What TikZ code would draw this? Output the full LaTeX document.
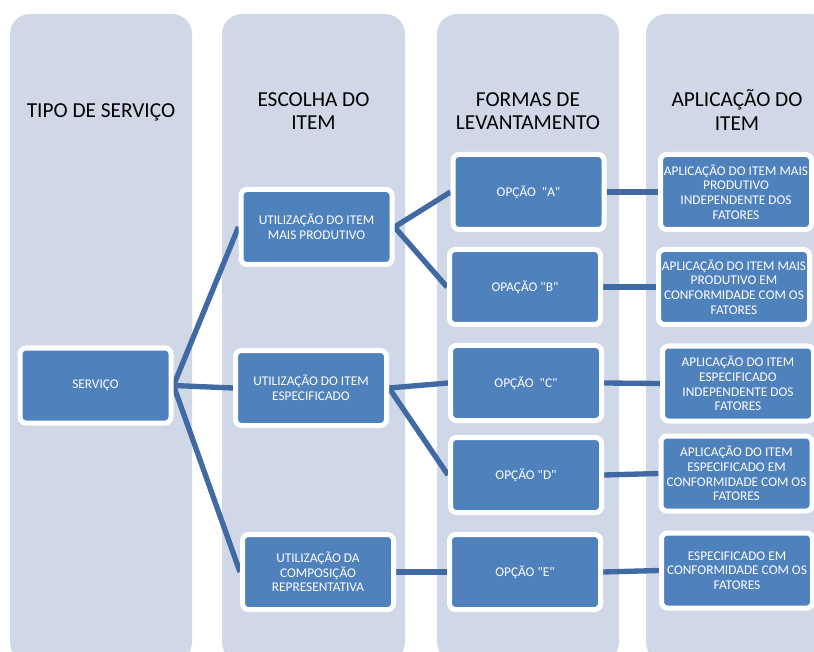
\documentclass[tikz,border=0pt]{standalone}
\usepackage{fontspec}
\setmainfont{Carlito}[Ligatures=TeXOff]
\pgfdeclarelayer{lanes}
\pgfdeclarelayer{links}
\pgfsetlayers{lanes,links,main}
\definecolor{laneblue}{RGB}{208,216,232}
\definecolor{cardblue}{RGB}{79,129,189}
\definecolor{linkblue}{RGB}{65,106,162}
\begin{document}
\begin{tikzpicture}[x=0.75pt,y=-0.75pt,
  lane/.style={fill=laneblue, rounded corners=15pt},
  head/.style={align=center, text=black, inner sep=0pt,
    font=\fontsize{16}{17.6}\selectfont},
  card/.style={draw=white, line width=3.75pt, fill=cardblue,
    rounded corners=4.5pt, minimum width=113.25pt, minimum height=56.25pt,
    inner sep=0pt, align=center, text=white,
    font=\fontsize{10}{11}\selectfont},
  link/.style={draw=linkblue, line width=4pt}]
\useasboundingbox (0,0) rectangle (814,652);
\clip (0,0) rectangle (814,652);

% column lanes
\begin{pgfonlayer}{lanes}
  \fill[lane] (10,14) rectangle (192,662);
  \fill[lane] (222,14) rectangle (405,662);
  \fill[lane] (437,14) rectangle (619,662);
  \fill[lane] (646,14) rectangle (830,662);
\end{pgfonlayer}

% column headings
\node[head] (h1) at (101,112.5) {TIPO DE SERVIÇO};
\node[head] (h2) at (313.5,111) {ESCOLHA DO\\ITEM};
\node[head] (h3) at (528,111) {FORMAS DE\\LEVANTAMENTO};
\node[head] (h4) at (737,110) {APLICAÇÃO DO\\ITEM};

% service
\node[card] (serv) at (95.5,385.5) {SERVIÇO};

% item choice
\node[card] (u1) at (316.5,227) {UTILIZAÇÃO DO ITEM\\MAIS PRODUTIVO};
\node[card] (u2) at (311,388) {UTILIZAÇÃO DO ITEM\\ESPECIFICADO};
\node[card] (u3) at (318,572) {UTILIZAÇÃO DA\\COMPOSIÇÃO\\REPRESENTATIVA};

% survey options
\node[card] (oA) at (528.5,192) {OPÇÃO\ \ "A"};
\node[card] (oB) at (525,287) {OPAÇÃO "B"};
\node[card] (oC) at (526,383) {OPÇÃO\ \ "C"};
\node[card] (oD) at (526,475) {OPÇÃO "D"};
\node[card] (oE) at (525,572) {OPÇÃO "E"};

% item application
\node[card] (a1) at (736,192) {APLICAÇÃO DO ITEM MAIS\\PRODUTIVO\\INDEPENDENTE DOS\\FATORES};
\node[card] (a2) at (734,287) {APLICAÇÃO DO ITEM MAIS\\PRODUTIVO EM\\CONFORMIDADE COM OS\\FATORES};
\node[card] (a3) at (738,383.5) {APLICAÇÃO DO ITEM\\ESPECIFICADO\\INDEPENDENTE DOS\\FATORES};
\node[card] (a4) at (736.5,473.5) {APLICAÇÃO DO ITEM\\ESPECIFICADO EM\\CONFORMIDADE COM OS\\FATORES};
\node[card] (a5) at (737,570.5) {ESPECIFICADO EM\\CONFORMIDADE COM OS\\FATORES};

% connectors
\begin{pgfonlayer}{links}
  \draw[link] (serv.east) -- (u1.west);
  \draw[link] (serv.east) -- (u2.west);
  \draw[link] (serv.east) -- (u3.west);
  \draw[link] (u1.east) -- (oA.west);
  \draw[link] (u1.east) -- (oB.west);
  \draw[link] (u2.east) -- (oC.west);
  \draw[link] (u2.east) -- (oD.west);
  \draw[link] (u3.east) -- (oE.west);
  \draw[link] (oA.east) -- (a1.west);
  \draw[link] (oB.east) -- (a2.west);
  \draw[link] (oC.east) -- (a3.west);
  \draw[link] (oD.east) -- (a4.west);
  \draw[link] (oE.east) -- (a5.west);
\end{pgfonlayer}
\end{tikzpicture}
\end{document}
